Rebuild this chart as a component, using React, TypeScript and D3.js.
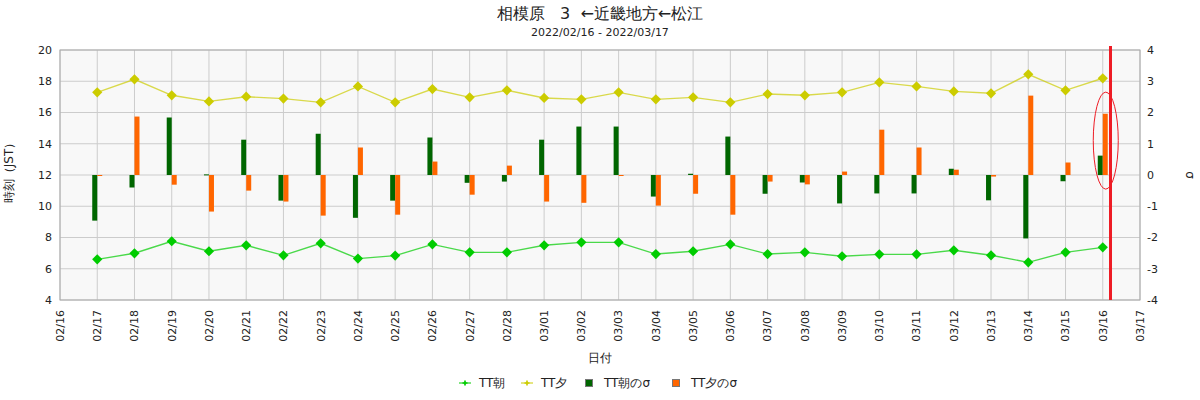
import * as d3 from 'd3'

const dates = [
  '02/17', '02/18', '02/19', '02/20', '02/21', '02/22', '02/23', '02/24', '02/25', '02/26', '02/27', '02/28',
  '03/01', '03/02', '03/03', '03/04', '03/05', '03/06', '03/07', '03/08', '03/09', '03/10', '03/11', '03/12',
  '03/13', '03/14', '03/15', '03/16',
]
const ttAsa = [
  6.6, 6.99, 7.76, 7.12, 7.5, 6.86, 7.63, 6.65, 6.84, 7.56, 7.05, 7.05,
  7.5, 7.69, 7.69, 6.94, 7.12, 7.56, 6.94, 7.05, 6.8, 6.92, 6.92, 7.18,
  6.86, 6.41, 7.05, 7.37,
]
const ttYu = [
  17.29, 18.12, 17.1, 16.71, 17.01, 16.89, 16.65, 17.67, 16.65, 17.5, 16.97, 17.42,
  16.93, 16.84, 17.29, 16.84, 16.97, 16.65, 17.18, 17.1, 17.29, 17.93, 17.67, 17.35,
  17.23, 18.44, 17.42, 18.19,
]
const sigmaAsa = [
  -1.46, -0.4, 1.84, 0.02, 1.13, -0.82, 1.32, -1.37, -0.82, 1.2, -0.25, -0.21,
  1.13, 1.55, 1.55, -0.69, 0.04, 1.23, -0.6, -0.24, -0.91, -0.59, -0.59, 0.2,
  -0.81, -2.03, -0.2, 0.62,
]
const sigmaYu = [
  -0.02, 1.87, -0.31, -1.17, -0.5, -0.85, -1.3, 0.88, -1.27, 0.43, -0.63, 0.3,
  -0.85, -0.89, -0.02, -0.98, -0.6, -1.27, -0.21, -0.3, 0.11, 1.45, 0.88, 0.17,
  -0.05, 2.54, 0.4, 1.96,
]
const leftTicks = [4, 6, 8, 10, 12, 14, 16, 18, 20]
const rightTicks = [-4, -3, -2, -1, 0, 1, 2, 3, 4]
const nowMark = '2022-03-16T05:00:00Z'

const W = 1200
const H = 400
const m = { left: 60, right: 1140, top: 50, bottom: 300 }
const font = '"DejaVu Sans", sans-serif'

const toDate = (s: string) => new Date(`2022-${s.replace('/', '-')}T00:00:00Z`)

export default function App() {
  const x = d3
    .scaleUtc()
    .domain([new Date('2022-02-16T00:00:00Z'), new Date('2022-03-17T00:00:00Z')])
    .range([m.left, m.right])
  const y = d3.scaleLinear().domain([4, 20]).range([m.bottom, m.top])
  const y2 = d3.scaleLinear().domain([-4, 4]).range([m.bottom, m.top])
  const days = x.ticks(d3.utcDay.every(1)!)
  const fmt = d3.utcFormat('%m/%d')

  const pts = dates.map(toDate)
  const line = d3
    .line<number>()
    .x((_, i) => x(pts[i]))
    .y(d => y(d))
  const diamond = d3.symbol(d3.symbolSquare, 52)() ?? ''
  const cross = d3.symbol(d3.symbolCross, 14)() ?? ''
  const barW = 5

  return (
    <svg width={W} height={H} style={{ position: 'absolute', left: 0, top: 0 }} fontFamily={font}>
      <rect x={0} y={0} width={W} height={H} fill="#fff" />
      <text x={600} y={19} textAnchor="middle" fontSize={16} fill="#222" style={{ whiteSpace: 'pre' }}>
        {'相模原   3  ←近畿地方←松江'}
      </text>
      <text x={600} y={36} textAnchor="middle" fontSize={11} fill="#222">
        2022/02/16 - 2022/03/17
      </text>

      <rect x={m.left} y={m.top} width={m.right - m.left} height={m.bottom - m.top} fill="#f8f8f8" />
      {leftTicks.map(t => (
        <line key={t} x1={m.left} x2={m.right} y1={y(t)} y2={y(t)} stroke="#cccccc" strokeWidth={1} />
      ))}
      {days.map(d => (
        <line key={+d} x1={x(d)} x2={x(d)} y1={m.top} y2={m.bottom} stroke="#cccccc" strokeWidth={1} />
      ))}

      {sigmaAsa.map((v, i) => (
        <rect
          key={'a' + i}
          x={x(pts[i]) - barW}
          width={barW}
          y={Math.min(y2(v), y2(0))}
          height={Math.max(Math.abs(y2(v) - y2(0)), 1)}
          fill="#006600"
        />
      ))}
      {sigmaYu.map((v, i) => (
        <rect
          key={'y' + i}
          x={x(pts[i])}
          width={barW}
          y={Math.min(y2(v), y2(0))}
          height={Math.max(Math.abs(y2(v) - y2(0)), 1)}
          fill="#ff6600"
        />
      ))}

      <path d={line(ttYu) ?? ''} fill="none" stroke="#cccc00" strokeOpacity={0.7} strokeWidth={1.4} />
      <path d={line(ttAsa) ?? ''} fill="none" stroke="#00cc00" strokeOpacity={0.7} strokeWidth={1.4} />
      {ttYu.map((v, i) => (
        <path key={'py' + i} d={diamond} transform={`translate(${x(pts[i])},${y(v)}) rotate(45)`} fill="#cccc00" />
      ))}
      {ttAsa.map((v, i) => (
        <path key={'pa' + i} d={diamond} transform={`translate(${x(pts[i])},${y(v)}) rotate(45)`} fill="#00cc00" />
      ))}

      <rect
        x={m.left}
        y={m.top}
        width={m.right - m.left}
        height={m.bottom - m.top}
        fill="none"
        stroke="#aaaaaa"
        strokeWidth={1}
      />

      <line
        x1={x(new Date(nowMark))}
        x2={x(new Date(nowMark))}
        y1={m.top - 4}
        y2={m.bottom}
        stroke="#ee1c25"
        strokeWidth={3}
      />
      <ellipse
        cx={x(pts[pts.length - 1]) + 3}
        cy={y2(1.1)}
        rx={12.5}
        ry={48.5}
        fill="none"
        stroke="#ee1c25"
        strokeWidth={1}
      />

      {leftTicks.map(t => (
        <text key={t} x={m.left - 8} y={y(t)} dy="0.35em" textAnchor="end" fontSize={11} fill="#222">
          {t}
        </text>
      ))}
      {rightTicks.map(t => (
        <text key={t} x={m.right + 7} y={y2(t)} dy="0.35em" textAnchor="start" fontSize={11} fill="#222">
          {t}
        </text>
      ))}
      {days.map(d => (
        <text
          key={+d}
          transform={`translate(${x(d)},${m.bottom + 10}) rotate(-90)`}
          dy="0.35em"
          textAnchor="end"
          fontSize={11}
          fill="#222"
        >
          {fmt(d)}
        </text>
      ))}

      <text transform={`translate(13,170) rotate(-90)`} textAnchor="middle" fontSize={12} fill="#222">
        時刻（JST）
      </text>
      <text transform={`translate(1186,175) rotate(90)`} textAnchor="middle" fontSize={12} fill="#222">
        σ
      </text>
      <text x={600} y={362} textAnchor="middle" fontSize={12} fill="#222">
        日付
      </text>

      <g fontSize={12} fill="#222">
        <line x1={459} x2={471} y1={383} y2={383} stroke="#00cc00" strokeWidth={1} />
        <path d={cross} transform="translate(465,383)" fill="#00cc00" />
        <text x={479} y={383} dy="0.35em">TT朝</text>
        <line x1={521} x2={533} y1={383} y2={383} stroke="#cccc00" strokeWidth={1} />
        <path d={cross} transform="translate(527,383)" fill="#cccc00" />
        <text x={541} y={383} dy="0.35em">TT夕</text>
        <rect x={585.5} y={379.5} width={7} height={7} fill="#006600" stroke="#777" strokeWidth={1} />
        <text x={604} y={383} dy="0.35em">TT朝のσ</text>
        <rect x={672.5} y={379.5} width={7} height={7} fill="#ff6600" stroke="#777" strokeWidth={1} />
        <text x={691} y={383} dy="0.35em">TT夕のσ</text>
      </g>
    </svg>
  )
}
